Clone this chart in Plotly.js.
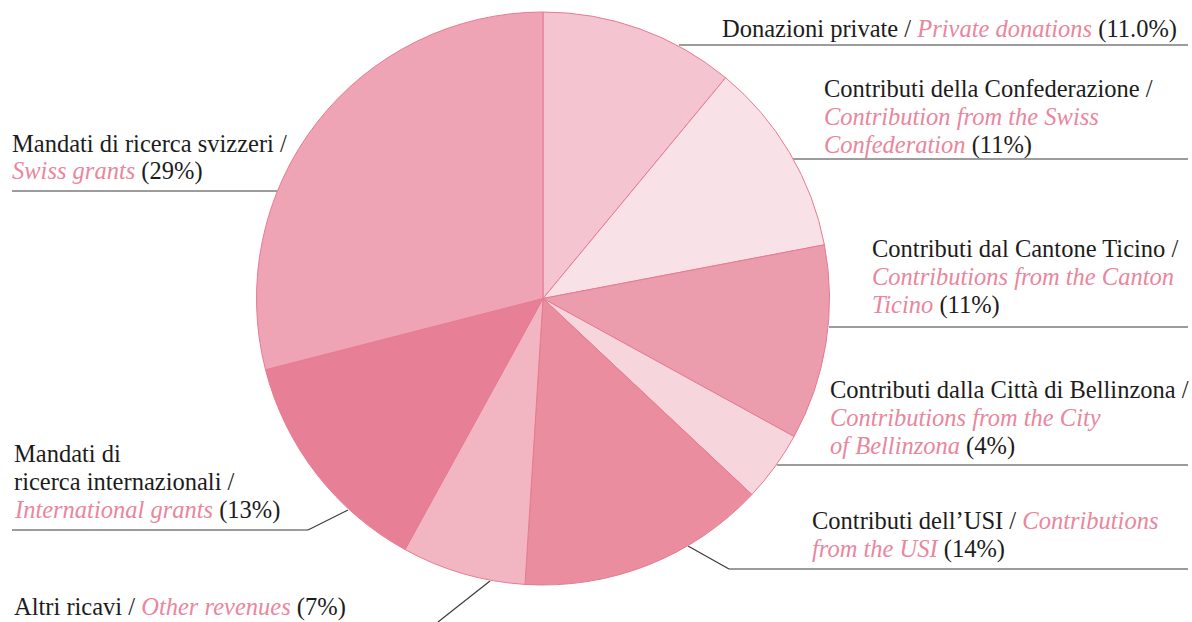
<!DOCTYPE html>
<html>
<head>
<meta charset="utf-8">
<script src="https://cdn.plot.ly/plotly-3.0.1.min.js"></script>
<style>html,body{margin:0;padding:0;background:#fff;}#chart{width:1192px;height:622px;}</style>
</head>
<body>
<div id="chart"></div>
<script>
// ---- data ----
var itLabels = [
  "Donazioni private",
  "Contributi della Confederazione",
  "Contributi dal Cantone Ticino",
  "Contributi dalla Città di Bellinzona",
  "Contributi dell’USI",
  "Altri ricavi",
  "Mandati di<br>ricerca internazionali",
  "Mandati di ricerca svizzeri"
];
var enLabels = [
  "Private donations",
  "Contribution from the Swiss<br>Confederation",
  "Contributions from the Canton<br>Ticino",
  "Contributions from the City<br>of Bellinzona",
  "Contributions<br>from the USI",
  "Other revenues",
  "International grants",
  "Swiss grants"
];
var values = [11, 11, 11, 4, 14, 7, 13, 29];
var pctLabels = ["(11.0%)", "(11%)", "(11%)", "(4%)", "(14%)", "(7%)", "(13%)", "(29%)"];
var colors = ["#f4c5d0", "#f8e1e7", "#eb9dae", "#f6d5dd", "#e98d9f", "#f2b6c3", "#e78097", "#eea4b5"];

// ---- layout helpers ----
var W = 1192, H = 622;
function px(x){ return x / W; }
function py(y){ return 1 - y / H; }
var PINK = "#ea869d";
var INK = "#1c1c1c";
var FONT = "'Liberation Serif', 'Times New Roman', Times, serif";
var FSIZE = 24.5;
var LINE = 28.5;
var breakAfterSlash = [false, true, true, true, false, false, true, true];

function buildLines(i){
  var itL = itLabels[i].split("<br>");
  itL[itL.length - 1] += " /";
  var enL = enLabels[i].split("<br>").map(function(s){
    return '<span style="color:' + PINK + '"><i>' + s + '</i></span>';
  });
  enL[enL.length - 1] += " " + pctLabels[i];
  if (breakAfterSlash[i]) return itL.concat(enL);
  var last = itL.pop();
  enL[0] = last + " " + enL[0];
  return itL.concat(enL);
}
// [left x, first baseline] in pixels
var annPos = [
  [722, 37], [824, 96], [872, 256], [830, 397],
  [812, 528], [14, 615], [14, 461], [12, 151]
];
var annotations = [];
annPos.forEach(function(p, i){
  buildLines(i).forEach(function(line, k){
    annotations.push({
      xref: "paper", yref: "paper", x: px(p[0] - 2), y: py(p[1] + k * LINE - 8),
      xanchor: "left", yanchor: "middle", align: "left", showarrow: false,
      text: line,
      font: {family: FONT, size: FSIZE, color: INK}
    });
  });
});

var leaderPaths = [
  [[679,45],[1188,45]],
  [[793,159],[1188,159]],
  [[829,327],[1188,327]],
  [[777,465],[1188,465]],
  [[688,546],[729,569],[1188,569]],
  [[490,581],[438,622]],
  [[348,510],[308,530],[12,530]],
  [[277,191],[12,191]]
];
var shapes = [];
leaderPaths.forEach(function(pts){
  for (var k = 0; k < pts.length - 1; k++){
    shapes.push({type: "line", xref: "paper", yref: "paper",
      x0: px(pts[k][0]), y0: py(pts[k][1]), x1: px(pts[k+1][0]), y1: py(pts[k+1][1]),
      line: {color: "#3a3a3a", width: 1.2}, layer: "below"});
  }
});

var trace = {
  type: "pie",
  values: values,
  labels: itLabels,
  sort: false,
  direction: "clockwise",
  rotation: 0,
  textinfo: "none",
  hoverinfo: "none",
  showlegend: false,
  marker: {colors: colors, line: {color: "#e87a92", width: 1}},
  domain: {x: [px(256), px(830)], y: [py(585), py(12)]}
};

var layout = {
  width: W, height: H,
  margin: {l: 0, r: 0, t: 0, b: 0},
  paper_bgcolor: "#ffffff",
  plot_bgcolor: "#ffffff",
  showlegend: false,
  font: {family: FONT},
  annotations: annotations,
  shapes: shapes
};

Plotly.newPlot("chart", [trace], layout, {displayModeBar: false, staticPlot: true});
</script>
</body>
</html>
